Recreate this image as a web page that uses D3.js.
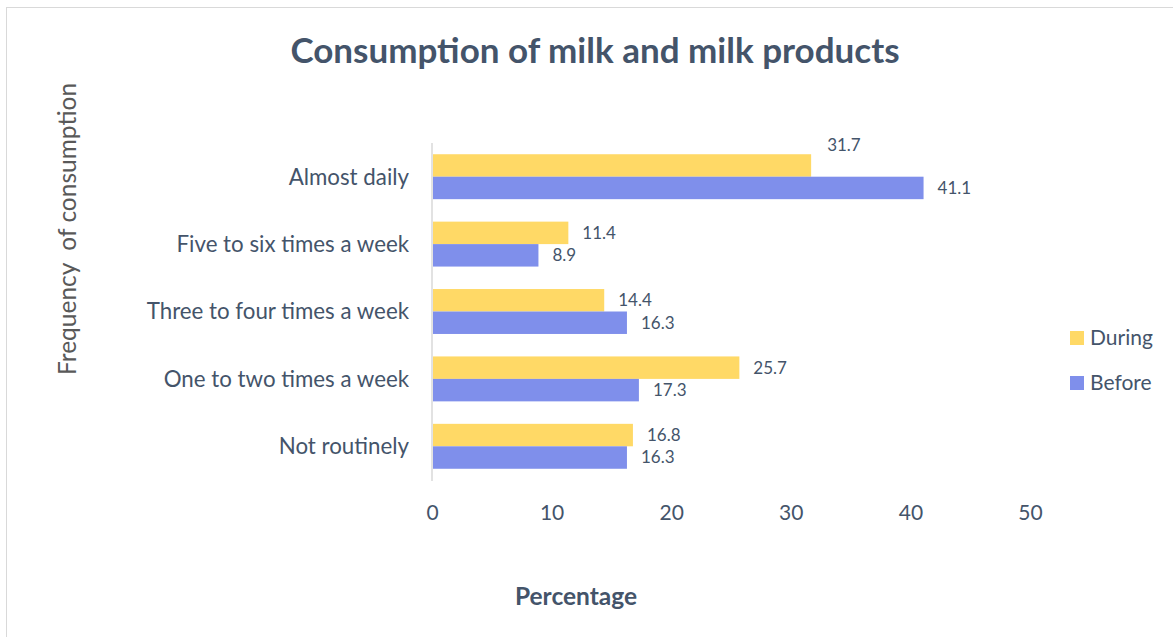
<!DOCTYPE html>
<html><head><meta charset="utf-8">
<script src="https://cdn.jsdelivr.net/npm/d3@7"></script>
<style>body{margin:0;background:#fff;} svg{display:block;}</style>
</head><body>
<svg id="c" width="1173" height="637"></svg>
<script>
const categories = ["Almost daily","Five to six times a week","Three to four times a week","One to two times a week","Not routinely"];
const seriesNames = ["During","Before"];
const during = [31.7, 11.4, 14.4, 25.7, 16.8];
const before = [41.1, 8.9, 16.3, 17.3, 16.3];
const xTicks = [0,10,20,30,40,50];
const colors = {During:"#FFD966", Before:"#7F8FEB"};
const font = "Lato, 'Open Sans', sans-serif";
const textColor = "#44546A";

const svg = d3.select("#c");
svg.append("rect").attr("x",6.5).attr("y",7.5).attr("width",1180).attr("height",640)
  .attr("fill","#fff").attr("stroke","#D9D9D9");

const m = {left:432, right:1030, top:143, bottom:480};
const x = d3.scaleLinear().domain([0,50]).range([m.left,m.right]);
const y = d3.scaleBand().domain(categories).range([m.top,m.bottom]).paddingInner(1/3).paddingOuter(1/6);
const ys = d3.scaleBand().domain(seriesNames).range([0,y.bandwidth()]);

svg.append("text").attr("x",595).attr("y",63).attr("text-anchor","middle")
  .attr("font-family",font).attr("font-weight","bold").attr("font-size",35)
  .attr("fill",textColor).text("Consumption of milk and milk products");

// axis line
svg.append("line").attr("x1",x(0)).attr("x2",x(0)).attr("y1",m.top).attr("y2",m.bottom+1)
  .attr("stroke","#D9D9D9").attr("stroke-width",1.5);

const data = categories.map((c,i)=>({c, vals:[{s:"During",v:during[i]},{s:"Before",v:before[i]}]}));
const g = svg.selectAll("g.cat").data(data).join("g").attr("transform",d=>`translate(0,${y(d.c)})`);
g.selectAll("rect").data(d=>d.vals).join("rect")
  .attr("x",x(0)+1).attr("y",d=>ys(d.s)).attr("height",ys.bandwidth())
  .attr("width",d=>x(d.v)-x(0)-1).attr("fill",d=>colors[d.s]);
g.selectAll("text.lbl").data((d,i)=>d.vals.map(v=>({...v,i}))).join("text").attr("class","lbl")
  .attr("x",d=>x(d.v)+ (d.i===0 && d.s==="During" ? 16 : 14))
  .attr("y",d=>ys(d.s)+ys.bandwidth()/2 + (d.i===0 && d.s==="During" ? -20 : 0))
  .attr("dy","0.35em").attr("font-family",font).attr("font-size",17).attr("fill",textColor)
  .text(d=>d.v.toFixed(1));

// category labels
svg.selectAll("text.cat").data(categories).join("text").attr("class","cat")
  .attr("x",409).attr("y",d=>y(d)+y.bandwidth()/2).attr("dy","0.35em").attr("text-anchor","end")
  .attr("font-family",font).attr("font-size",22.3).attr("fill",textColor).text(d=>d);

// x ticks
const xa = svg.append("g").attr("transform",`translate(0,${m.bottom})`)
  .call(d3.axisBottom(x).tickValues(xTicks).tickSize(0).tickPadding(25));
xa.select(".domain").remove();
xa.selectAll("text").attr("font-family",font).attr("font-size",21).attr("fill",textColor);

svg.append("text").attr("x",576).attr("y",605).attr("text-anchor","middle")
  .attr("font-family",font).attr("font-weight","bold").attr("font-size",24.5)
  .attr("fill",textColor).text("Percentage");

svg.append("text").attr("transform","translate(76,229) rotate(-90)").attr("text-anchor","middle")
  .attr("font-family",font).attr("font-size",24.5).attr("fill","#595959")
  .attr("xml:space","preserve").style("white-space","pre").text("Frequency  of consumption");

// legend
const lg = svg.selectAll("g.lg").data(seriesNames).join("g").attr("class","lg")
  .attr("transform",(d,i)=>`translate(1070,${338+i*45})`);
lg.append("rect").attr("x",0).attr("y",-7).attr("width",14).attr("height",14).attr("fill",d=>colors[d]);
lg.append("text").attr("x",20).attr("dy","0.35em").attr("font-family",font).attr("font-size",21)
  .attr("fill",textColor).text(d=>d);
</script>
</body></html>
